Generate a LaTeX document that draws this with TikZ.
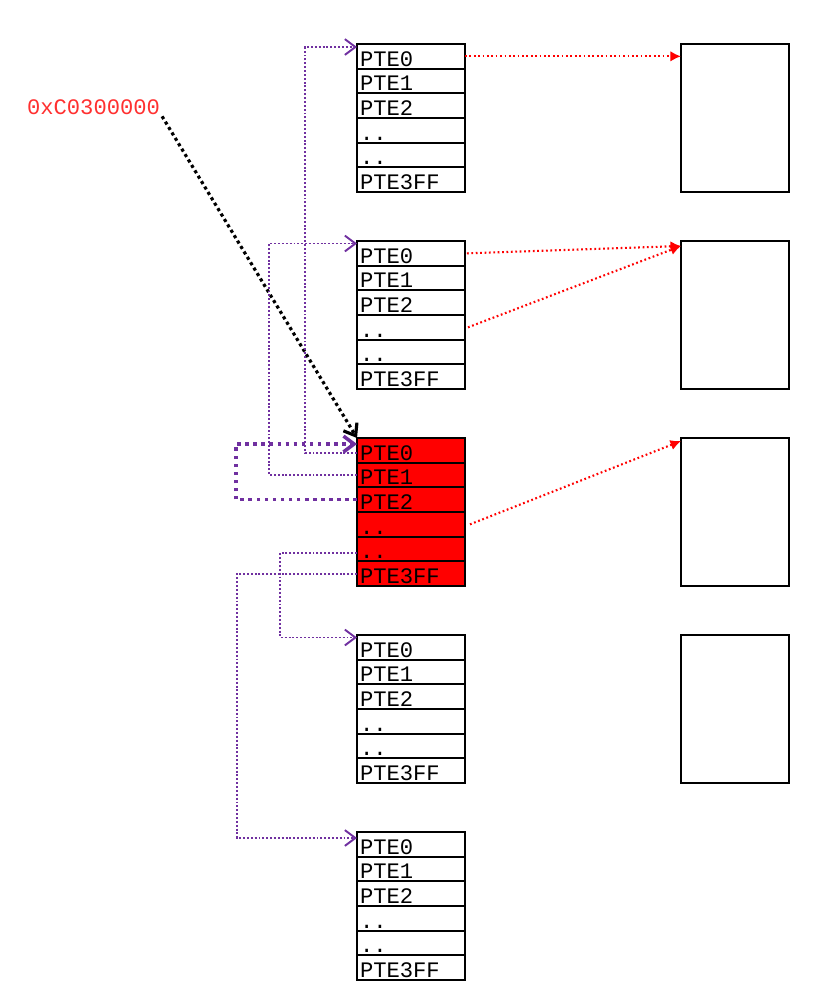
\documentclass[tikz,border=0pt]{standalone}
\usepackage{fontspec}
\setmonofont{Liberation Mono}
\usetikzlibrary{arrows.meta}
\usetikzlibrary{calc}
\definecolor{zeiger}{RGB}{112,48,160}
\definecolor{adresse}{RGB}{255,48,48}
\definecolor{seite}{RGB}{255,0,0}

\begin{document}
\begin{tikzpicture}[x=0.02cm, y=-0.02cm,
    pte/.style={draw, line width=1pt, inner ysep=0pt, inner xsep=0.06cm, outer sep=0pt,
        minimum height=0.4933cm, text width=2.04cm, align=left, text height=0.39cm, text depth=0pt,
        font=\fontsize{12.6pt}{14pt}\selectfont\ttfamily},
    frame/.style={draw, line width=1pt, minimum width=2.16cm, minimum height=2.96cm, outer sep=0pt, anchor=north west},
    ptr/.style={zeiger, line width=1.1pt, dash pattern=on 1.1pt off 1.1pt, -{Straight Barb[length=6pt,width=9pt]}},
    selfptr/.style={ptr, line width=2pt, dash pattern=on 2pt off 2.6pt},
    mapptr/.style={seite, line width=1.2pt, dash pattern=on 1pt off 1.5pt, -{Latex[length=6pt,width=6pt]}}]

    \useasboundingbox (0,0) rectangle (835,1005);

    % page tables
    \foreach \k/\fc in {1/white,2/white,3/seite,4/white,5/white}
        \foreach \r/\txt in {0/PTE0,1/PTE1,2/PTE2,3/..,4/..,5/PTE3FF}
            \node[pte, fill=\fc, anchor=north west] (t\k-r\r) at (357,{44+197*(\k-1)+24.667*\r}) {\txt};

    % pages
    \foreach \k in {1,...,4}
        \node[frame] (f\k) at (681,{44+197*(\k-1)}) {};

    \node[adresse, anchor=base west, inner sep=1pt, font=\fontsize{12.6pt}{14pt}\selectfont\ttfamily] (addr) at (25,114) {0xC0300000};

    \draw[black, line width=1.8pt, dash pattern=on 1.8pt off 1.8pt, -{Straight Barb[length=6pt,width=9pt]}] (addr.south east) -- (t3-r0.north west);

    \draw[ptr] ([yshift=-0.05cm]t3-r0.west) -- ++(-52,0) |- ([yshift=-0.06cm]t1-r0.north west);
    \draw[ptr] (t3-r1.west) -- ++(-88,0) |- ([yshift=-0.05cm]t2-r0.north west);
    \draw[selfptr] (t3-r2.west) -- ++(-121,0) |- ([yshift=-0.12cm]t3-r0.north west);
    \draw[ptr] ([yshift=-0.08cm]t3-r4.west) -- ++(-77,0) |- ([yshift=-0.05cm]t4-r0.north west);
    \draw[ptr] (t3-r5.west) -- ++(-120,0) |- ([yshift=-0.12cm]t5-r0.north west);

    \draw[mapptr] (t1-r0.east) -- (t1-r0.east -| f1.west);
    \draw[mapptr] ([xshift=0.04cm]t2-r0.east) -- ([yshift=-0.1cm]f2.north west);
    \draw[mapptr] ([xshift=0.06cm]t2-r3.east) -- ([yshift=-0.1cm]f2.north west);
    \draw[mapptr] ([xshift=0.1cm]t3-r3.east) -- ([yshift=-0.06cm]f3.north west);

\end{tikzpicture}
\end{document}
